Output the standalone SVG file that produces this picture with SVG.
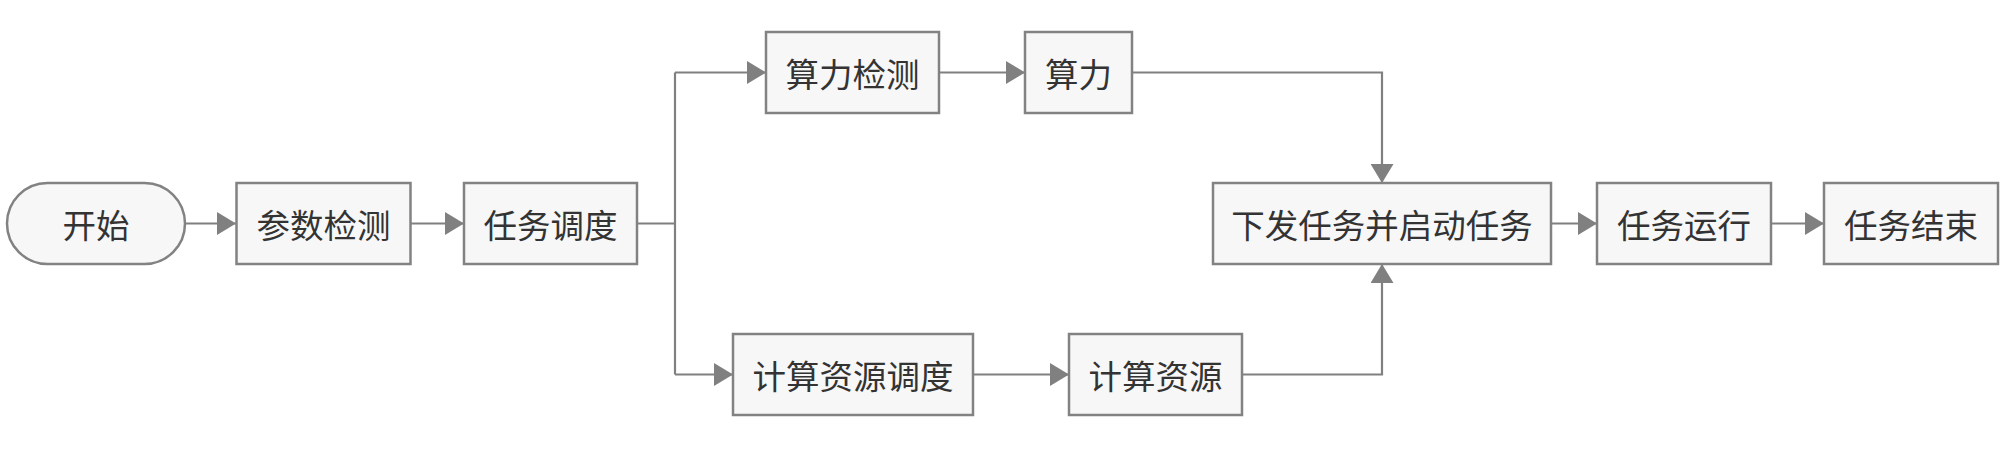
<svg xmlns="http://www.w3.org/2000/svg" width="2007" height="459" viewBox="0 0 2007 459">
<style>
.box{fill:#f7f7f7;stroke:#828282;stroke-width:2.5}
.lbl{font-family:"Noto Sans CJK SC","Noto Sans",sans-serif;font-size:33.5px;fill:#333;text-anchor:middle;dominant-baseline:central}
.edge{fill:none;stroke:#808080;stroke-width:2.2}
</style>
<defs>
<marker id="arr" markerUnits="userSpaceOnUse" markerWidth="19" markerHeight="23" refX="19" refY="11.5" orient="auto">
<path d="M0,0 L19,11.5 L0,23 z" fill="#808080"/>
</marker>
</defs>
<rect width="2007" height="459" fill="#ffffff"/>
<g id="connectors">
<path class="edge" d="M185,223.5 H236" marker-end="url(#arr)"/>
<path class="edge" d="M410.5,223.5 H464" marker-end="url(#arr)"/>
<path class="edge" d="M637,223.5 H675"/>
<path class="edge" d="M675,72.5 V374.5"/>
<path class="edge" d="M675,72.5 H766" marker-end="url(#arr)"/>
<path class="edge" d="M675,374.5 H733" marker-end="url(#arr)"/>
<path class="edge" d="M939,72.5 H1025" marker-end="url(#arr)"/>
<path class="edge" d="M1132,72.5 H1382 V183" marker-end="url(#arr)"/>
<path class="edge" d="M973,374.5 H1069" marker-end="url(#arr)"/>
<path class="edge" d="M1242,374.5 H1382 V264" marker-end="url(#arr)"/>
<path class="edge" d="M1551,223.5 H1597" marker-end="url(#arr)"/>
<path class="edge" d="M1771,223.5 H1824" marker-end="url(#arr)"/>
</g>
<g id="start"><rect class="box" x="7" y="183" width="178" height="81" rx="40.5"/><text class="lbl" x="96" y="223.5">开始</text></g>
<g id="param"><rect class="box" x="236.5" y="183" width="174" height="81"/><text class="lbl" x="323.5" y="223.5">参数检测</text></g>
<g id="schedule"><rect class="box" x="464" y="183" width="173" height="81"/><text class="lbl" x="550.5" y="223.5">任务调度</text></g>
<g id="power-check"><rect class="box" x="766" y="32" width="173" height="81"/><text class="lbl" x="852.5" y="72.5">算力检测</text></g>
<g id="power"><rect class="box" x="1025" y="32" width="107" height="81"/><text class="lbl" x="1078.5" y="72.5">算力</text></g>
<g id="res-schedule"><rect class="box" x="733" y="334" width="240" height="81"/><text class="lbl" x="853" y="374.5">计算资源调度</text></g>
<g id="res"><rect class="box" x="1069" y="334" width="173" height="81"/><text class="lbl" x="1155.5" y="374.5">计算资源</text></g>
<g id="dispatch"><rect class="box" x="1213" y="183" width="338" height="81"/><text class="lbl" x="1382" y="223.5">下发任务并启动任务</text></g>
<g id="run"><rect class="box" x="1597" y="183" width="174" height="81"/><text class="lbl" x="1684" y="223.5">任务运行</text></g>
<g id="end"><rect class="box" x="1824" y="183" width="174" height="81"/><text class="lbl" x="1911" y="223.5">任务结束</text></g>
</svg>
